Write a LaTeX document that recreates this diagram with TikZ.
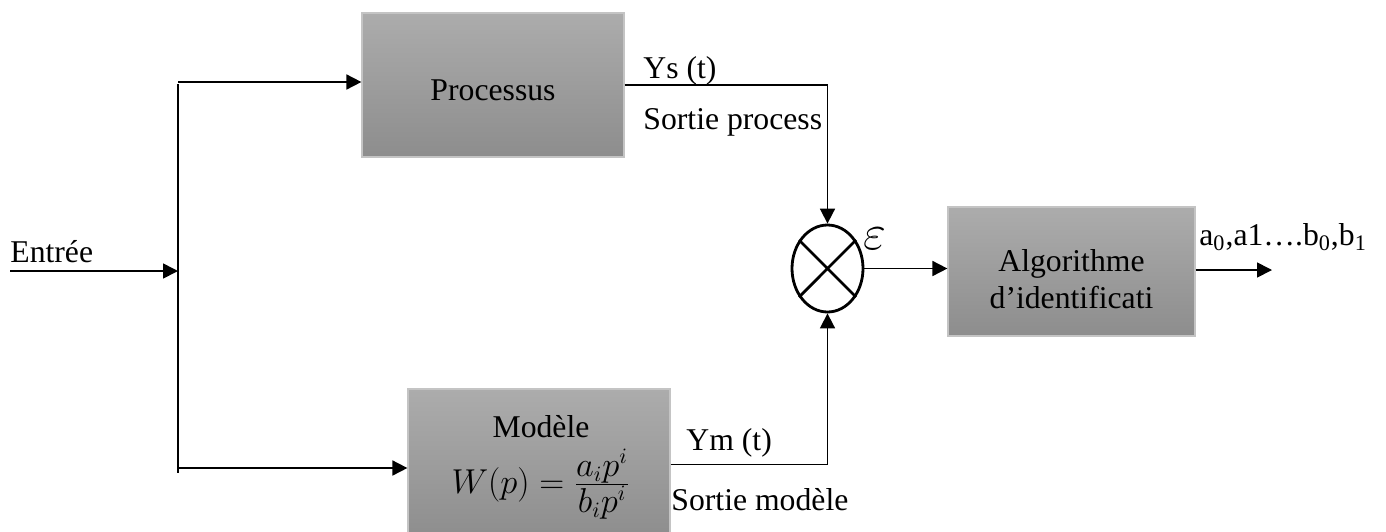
\documentclass[tikz,border=0pt]{standalone}
\usepackage{fontspec}
\setmainfont{Liberation Serif}
\usetikzlibrary{arrows.meta,shapes.geometric,calc}
\definecolor{boxtop}{RGB}{172,172,172}
\definecolor{boxbot}{RGB}{141,141,141}
\definecolor{boxrim}{RGB}{196,196,196}
\tikzset{
  blk/.style={draw=boxrim,line width=0.6pt,top color=boxtop,bottom color=boxbot,
              rectangle,inner sep=0pt},
  lbl/.style={font=\fontsize{15.85}{19}\selectfont,inner sep=0pt},
  wire/.style={line width=0.85pt,draw=black},
  arr/.style={wire,-{Triangle[length=7.5pt,width=7.5pt]}},
}
\begin{document}
\begin{tikzpicture}[x=0.5pt,y=-0.5pt]
\useasboundingbox (0,0) rectangle (1386,531);

% blocks
\node[blk,minimum width=131pt,minimum height=72pt] (proc) at (493,85) {};
\node[blk,minimum width=131pt,minimum height=75.5pt] (mod) at (539,464.5) {};
\node[blk,minimum width=123.5pt,minimum height=64.5pt] (alg) at (1071.5,271.5) {};
\node[ellipse,draw,line width=1.4pt,minimum width=35.5pt,minimum height=43.5pt,inner sep=0pt] (sum) at (827.5,268.5) {};
\draw[line width=1.4pt] (sum.45) -- (sum.225) (sum.135) -- (sum.315);

% block texts
\node[lbl,anchor=base] (procT) at (493,100) {Processus};
\node[lbl,anchor=base] (modT) at (541,437) {Modèle};
\node[lbl,anchor=base] (modF) at (541,493) {$W(p)=\frac{\textstyle a_ip^i}{\textstyle b_ip^i}$};
\node[lbl,anchor=base] (algT1) at (1071.5,271) {Algorithme};
\node[lbl,anchor=base] (algT2) at (1071.5,308) {d’identificati};

% input and branching
\coordinate (in) at (10,271);
\coordinate (j) at (178,271);
\coordinate (jt) at (178,82);
\coordinate (jb) at (178,468);
\coordinate (jtop) at (178,84);
\coordinate (jbot) at (178,473);
\draw[arr] (in) -- (j);
\draw[wire] (jtop) -- (jbot);
\draw[arr] (jt) -- (jt -| proc.west);
\draw[arr] (jb) -- (jb -| mod.west);

% outputs to comparator
\draw[arr] (proc.east) -| (sum.north);
\draw[arr] (mod.east) -| (sum.south);
\draw[arr] (sum.east) -- (sum.east -| alg.west);
\coordinate (out) at (1272,270);
\draw[arr] (alg.east |- out) -- (out);

% signal labels
\node[lbl,anchor=base west] (ent) at (10,262) {Entrée};
\node[lbl,anchor=base west] (ys) at (643,78) {Ys (t)};
\node[lbl,anchor=base west] (sp) at (643,129) {Sortie process};
\node[lbl,anchor=base west] (ym) at (686,450) {Ym (t)};
\node[lbl,anchor=base west] (sm) at (671,510) {Sortie modèle};
\node[inner sep=0pt,font=\fontsize{24}{28}\selectfont] (eps) at (875,239) {$\varepsilon$};
\node[lbl,anchor=base west] (par) at (1199,245) {a\textsubscript{0},a1….b\textsubscript{0},b\textsubscript{1}};
\end{tikzpicture}
\end{document}
